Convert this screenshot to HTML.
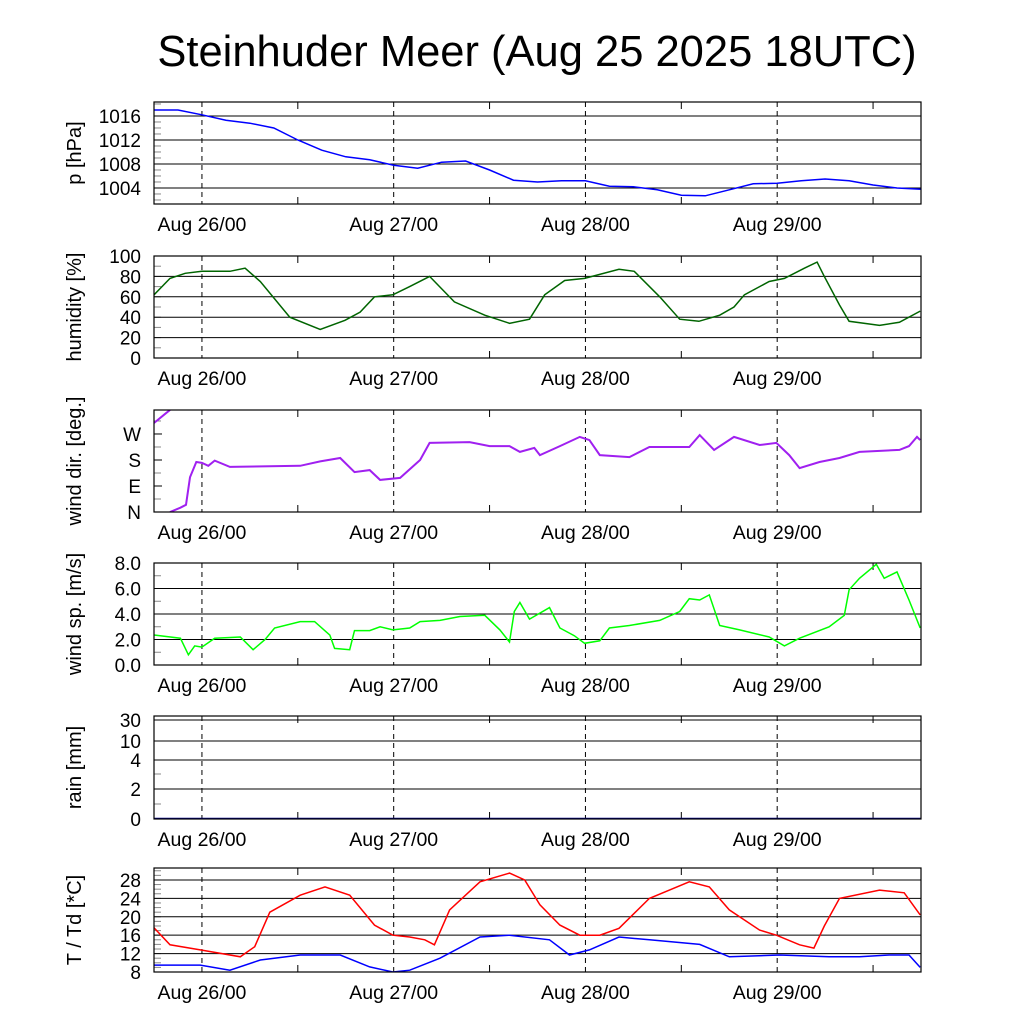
<!DOCTYPE html>
<html><head><meta charset="utf-8"><style>
html,body{margin:0;padding:0;background:#fff;}
svg{display:block;font-family:"Liberation Sans",sans-serif;}
</style></head><body>
<svg id="chart" width="1024" height="1024" viewBox="0 0 1024 1024" xmlns="http://www.w3.org/2000/svg">
<text x="537" y="66" font-size="43.5" text-anchor="middle">Steinhuder Meer (Aug 25 2025 18UTC)</text>
</svg>
<script>
// ---------- data (hours since Aug 25 18UTC) ----------
const dayLabels = ["Aug 26/00","Aug 27/00","Aug 28/00","Aug 29/00"];
const dayHours = [6,30,54,78];

const pHours = [0,3,6,9,12,15,18,21,24,27,30,33,36,39,42,45,48,51,54,57,60,63,66,69,72,75,78,81,84,87,90,93,96];
const pValues = [1017,1017,1016.2,1015.3,1014.8,1014,1012,1010.3,1009.2,1008.7,1007.8,1007.3,1008.3,1008.5,1007,1005.3,1005,1005.2,1005.2,1004.3,1004.2,1003.7,1002.8,1002.7,1003.7,1004.7,1004.8,1005.2,1005.5,1005.2,1004.5,1004,1003.8];
const pTicks = [1004,1008,1012,1016];

const hHours = [0,2,3.9,6,9.5,11.4,13.3,17,20.8,23.9,25.8,27.6,29.9,32,34.5,37.6,41.4,44.5,47,48.9,51.4,53.9,58.2,60.1,63.3,65.8,68.2,70.8,72.6,73.9,77,78.9,81.4,83,83.9,85.8,87,90.8,93.3,95.9];
const hValues = [62,78,83,85,85,88,75,40,28,37,45,60,62,70,80,55,42,34,38,62,76,78,87,85,60,38,36,42,50,62,75,78,88,94,80,52,36,32,35,46];
const hTicks = [0,20,40,60,80,100];

const dHours = [0,1.4,2,2,2,3.3,4,4.5,5.3,6,6.8,7.6,9.5,18.3,20.8,23.3,25.1,27,28.3,30.8,33.3,34.5,39.5,42,44.5,45.8,47.6,48.3,50.8,53.3,54.5,55.8,59.5,62,67,68.3,70.1,72.6,75.8,77.9,79.5,80.8,83.3,85.8,88.3,93.3,94.5,95.5,95.9];
const dValues = [308,340,353,null,0,15,25,120,173,170,160,178,156,160,175,187,138,145,111,118,180,239,242,228,228,208,222,197,228,260,249,197,190,225,225,266,215,260,232,239,197,152,173,187,208,215,228,260,249];
const dTickLabels = ["N","E","S","W"];
const dTickValues = [0,90,180,270];

const sHours = [0,3.3,4.3,5.1,6,7.6,10.8,12.4,13.9,15.1,18.3,20.1,22,22.6,24.5,25.1,27,28.3,29.9,32,33.3,35.8,38.3,41.4,43.3,44.5,45.1,45.8,47,49.5,50.8,52.6,53.9,55.8,57,59.5,63.3,65.8,67,68.3,69.5,70.8,73.3,77,78.9,80.8,84.5,86.4,87,88.3,90.4,91.4,93,94.5,95.9];
const sValues = [2.35,2.1,0.8,1.5,1.4,2.1,2.2,1.2,2.0,2.9,3.4,3.4,2.35,1.3,1.2,2.7,2.7,3.0,2.75,2.9,3.4,3.5,3.8,3.9,2.75,1.8,4.2,4.9,3.6,4.5,2.9,2.3,1.7,1.9,2.9,3.1,3.5,4.2,5.2,5.1,5.5,3.1,2.75,2.2,1.5,2.1,3.0,3.9,5.9,6.8,7.9,6.8,7.3,5.1,2.9];
const sTicks = [0,2,4,6,8];

const rHours = [0,96];
const rValues = [0,0];
const rTickLabels = ["0","2","4","10","30"];

const tHours = [0,2,5.8,10.8,12.6,14.5,18.3,21.4,24.5,27.6,29.9,32,33.9,35.1,37,40.8,44.5,46.4,48.3,50.8,53.3,55.8,58.2,62,67,69.5,72,75.8,77.9,80.8,82.6,83.9,85.8,90.8,93.9,95.9];
const tValues = [17.6,13.9,12.8,11.3,13.5,21,24.7,26.5,24.7,18.2,16,15.6,15,13.9,21.5,27.6,29.5,28,22.6,18.2,16,16,17.5,24,27.6,26.5,21.5,17.1,16,13.9,13.2,18,24,25.8,25.2,20.4];
const tdHours = [0,5.8,9.5,13.3,18.3,23.3,27,29.9,32,35.8,40.8,44.5,49.5,52,54.5,58.2,62,68.3,72,78.3,84.5,88.3,92,94.5,95.9];
const tdValues = [9.5,9.5,8.4,10.6,11.7,11.7,9.1,8,8.4,11,15.6,16,15,11.7,12.8,15.6,15,14,11.3,11.7,11.3,11.3,11.7,11.7,9];
const tTicks = [8,12,16,20,24,28];

// ---------- drawing ----------
const svg = document.getElementById('chart');
const NS = 'http://www.w3.org/2000/svg';
const X0 = 154, X1 = 921, H_TOTAL = 96;
const xs = h => X0 + (X1 - X0) * h / H_TOTAL;
function mk(tag, attrs, parent){ const e=document.createElementNS(NS,tag); for(const k in attrs) e.setAttribute(k,attrs[k]); (parent||svg).appendChild(e); return e; }
function range(a,b,s){ const r=[]; for(let v=a; v<=b+1e-9; v+=s) r.push(v); return r; }

let clipId = 0;
function panel(name, top, bot, ymin, ymax, label, opts){
  const g = mk('g', {});
  
  
  const ys = v => bot - (bot - top) * (v - ymin) / (ymax - ymin);
  const yf = opts.yfun || ys;
  (opts.minor||[]).forEach(v => { const y = yf(v); if (y>top+1 && y<bot-1) mk('line',{x1:X0,x2:X0+7,y1:y,y2:y,stroke:'#888','stroke-width':1},g); });
  opts.ticks.forEach((t, i) => {
    const y = yf(t.v);
    if (opts.grid) mk('line', {x1:X0,x2:X1,y1:y,y2:y,stroke:'#000','stroke-width':1}, g);
    else mk('line', {x1:X0,x2:X0+8,y1:y,y2:y,stroke:'#000','stroke-width':1}, g);
    const tx = mk('text', {x:141,y:y+7,'font-size':19,'text-anchor':'end'}, g);
    tx.textContent = t.l;
    
    
  });
  dayHours.forEach((h, i) => {
    const x = xs(h);
    mk('line', {x1:x,x2:x,y1:top,y2:bot,stroke:'#000','stroke-width':1,'stroke-dasharray':'5,4'}, g);
    const tx = mk('text', {x:x,y:bot+27,'font-size':19.5,'text-anchor':'middle'}, g);
    tx.textContent = dayLabels[i];
    
    
  });
  for (let h = 18; h < 96; h += 24) {
    const x = xs(h);
    mk('line',{x1:x,x2:x,y1:bot,y2:bot-7,stroke:'#000','stroke-width':1},g);
    mk('line',{x1:x,x2:x,y1:top,y2:top+7,stroke:'#000','stroke-width':1},g);
  }
  const cid = 'clip' + (clipId++);
  const cp = mk('clipPath', {id:cid}, g);
  mk('rect', {x:X0,y:top,width:X1-X0,height:bot-top}, cp);
  opts.series.forEach(s => {
    let d = '', pen = false;
    s.h.forEach((h, i) => {
      const v = s.v[i];
      if (v === null) { pen = false; return; }
      d += (pen ? 'L' : 'M') + xs(h).toFixed(1) + ',' + yf(v).toFixed(1);
      pen = true;
    });
    const p = mk('path', {d:d,fill:'none',stroke:s.c,'stroke-width':s.w||1.5,'clip-path':'url(#'+cid+')'}, g);
    
    
  });
  mk('rect', {x:X0,y:top,width:X1-X0,height:bot-top,fill:'none',stroke:'#000','stroke-width':1.2}, g);
  const cy = (top + bot) / 2;
  const yl = mk('text', {x:0,y:0,'font-size':20,'text-anchor':'middle',transform:'translate(81,'+cy+') rotate(-90)'}, g);
  yl.textContent = label;
  
  
}

panel('pressure', 102, 204, 1001.33, 1018.33, 'p [hPa]', {
  grid:true, ticks:pTicks.map(v=>({v:v,l:String(v)})), minor:range(1002,1018,1),
  series:[{h:pHours,v:pValues,c:'#0000ff',n:'pressure-line'}]});

panel('humidity', 256, 358, 0, 100, 'humidity [%]', {
  grid:true, ticks:hTicks.map(v=>({v:v,l:String(v)})), minor:range(10,90,10),
  series:[{h:hHours,v:hValues,c:'#006400',n:'humidity-line'}]});

panel('wind-direction', 410, 512, 0, 353, 'wind dir. [deg.]', {
  grid:false, ticks:dTickValues.map((v,i)=>({v:v,l:dTickLabels[i]})), minor:[45,135,225,315],
  series:[{h:dHours,v:dValues,c:'#a020f0',w:2,n:'wind-direction-line'}]});

panel('wind-speed', 563, 665, 0, 8, 'wind sp. [m/s]', {
  grid:true, ticks:sTicks.map(v=>({v:v,l:v.toFixed(1)})), minor:range(1,7,1),
  series:[{h:sHours,v:sValues,c:'#00ff00',n:'wind-speed-line'}]});

const rainY = {0:819,2:789,4:760,10:741,30:720};
panel('rain', 716, 819, 0, 30, 'rain [mm]', {
  grid:true, yfun: v => rainY[v] !== undefined ? rainY[v] : 819 - v*15,
  ticks:rTickLabels.map(l=>({v:Number(l),l:l})), minor:[1,3],
  series:[{h:rHours,v:rValues,c:'#00008b',w:2.5,n:'rain-line'}]});

panel('temperature', 868, 972, 8, 30.6, 'T / Td [*C]', {
  grid:true, ticks:tTicks.map(v=>({v:v,l:String(v)})), minor:range(9,30,1),
  series:[{h:tHours,v:tValues,c:'#ff0000',n:'temperature-line'},{h:tdHours,v:tdValues,c:'#0000ff',n:'dewpoint-line'}]});
</script>
</body></html>
